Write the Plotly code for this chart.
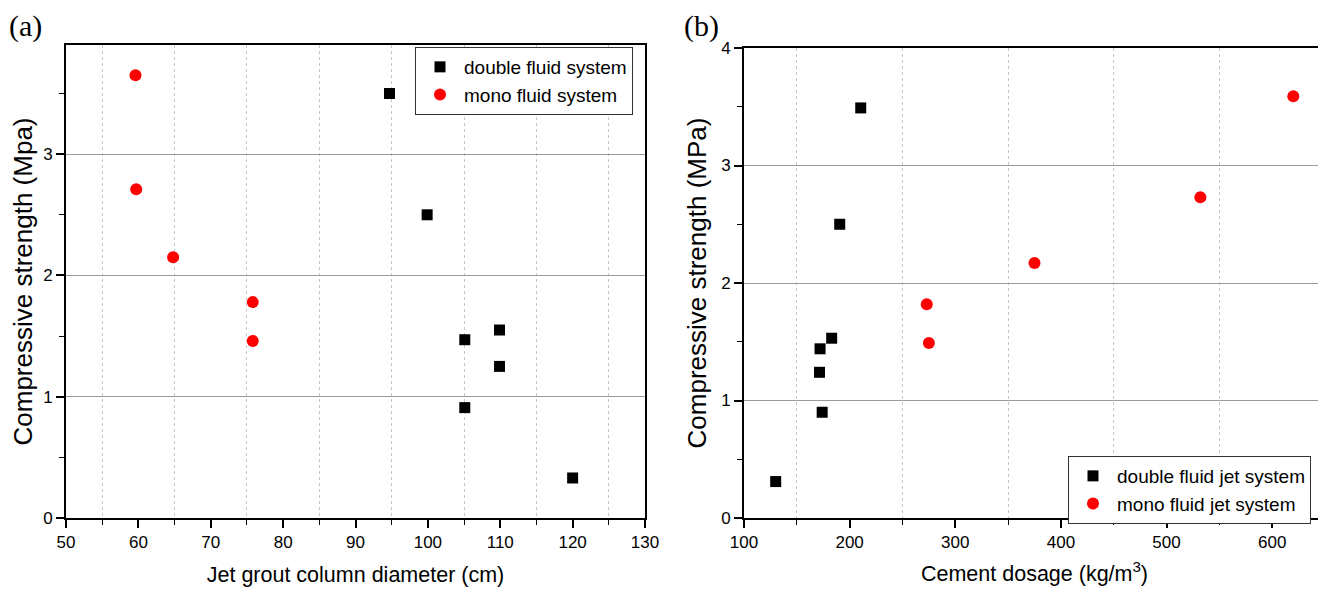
import plotly.graph_objects as go

# Panel (a): column diameter vs strength
a_double_x = [94.7, 99.9, 105.1, 109.9, 109.9, 105.1, 120.0]
a_double_y = [3.50, 2.50, 1.47, 1.55, 1.25, 0.91, 0.33]
a_mono_x = [59.6, 59.7, 64.8, 75.8, 75.8]
a_mono_y = [3.65, 2.71, 2.15, 1.78, 1.46]

# Panel (b): cement dosage vs strength
b_double_x = [130, 171.5, 172, 174, 183, 190.6, 210.5]
b_double_y = [0.31, 1.24, 1.44, 0.90, 1.53, 2.50, 3.49]
b_mono_x = [273, 275, 375, 532, 620]
b_mono_y = [1.82, 1.49, 2.17, 2.73, 3.59]

OFF = 8  # page body margin
W, H = 1326 - OFF, 594 - OFF
FONT = "Liberation Sans, Arial, sans-serif"

def px_x(p):
    return (p - OFF) / W

def px_y(p):
    return (H - (p - OFF)) / H

fig = go.Figure()
fig.add_trace(go.Scatter(x=a_double_x, y=a_double_y, mode="markers", name="double fluid system",
                         marker=dict(symbol="square", size=11, color="black"),
                         xaxis="x", yaxis="y", legend="legend"))
fig.add_trace(go.Scatter(x=a_mono_x, y=a_mono_y, mode="markers", name="mono fluid system",
                         marker=dict(symbol="circle", size=12, color="#ff0000"),
                         xaxis="x", yaxis="y", legend="legend"))
fig.add_trace(go.Scatter(x=b_double_x, y=b_double_y, mode="markers", name="double fluid jet system",
                         marker=dict(symbol="square", size=11, color="black"),
                         xaxis="x2", yaxis="y2", legend="legend2"))
fig.add_trace(go.Scatter(x=b_mono_x, y=b_mono_y, mode="markers", name="mono fluid jet system",
                         marker=dict(symbol="circle", size=12, color="#ff0000"),
                         xaxis="x2", yaxis="y2", legend="legend2"))

common = dict(showline=True, linecolor="black", linewidth=2, mirror=True, zeroline=False,
              ticks="outside", ticklen=8, tickwidth=1.5, tickcolor="black",
              tickfont=dict(family=FONT, size=17, color="black"), automargin=False)

xminor = dict(ticks="outside", ticklen=5, tickwidth=1, tickcolor="black", showgrid=True,
              gridcolor="#c8c8c8", griddash="dot", gridwidth=1)
yminor = dict(ticks="outside", ticklen=5, tickwidth=1, tickcolor="black", showgrid=False)

legend_common = dict(xanchor="left", yanchor="top", bordercolor="#333333", borderwidth=1,
                     bgcolor="white", font=dict(family=FONT, size=19, color="black"),
                     tracegroupgap=0, itemwidth=38)

fig.update_layout(
    width=W, height=H, margin=dict(l=0, r=0, t=0, b=0),
    plot_bgcolor="white", paper_bgcolor="white",
    font=dict(family=FONT, color="black"),
    xaxis=dict(domain=[px_x(66), px_x(645)], range=[50, 130], tick0=50, dtick=10, showgrid=False,
               minor=dict(dtick=5, **xminor), anchor="y",
               title=dict(text="Jet grout column diameter (cm)", font=dict(size=21.5), standoff=16), **common),
    yaxis=dict(domain=[px_y(518), px_y(45)], range=[0, 3.9], tick0=0, dtick=1, showgrid=True,
               gridcolor="#9a9a9a", gridwidth=1, minor=dict(dtick=0.5, **yminor), anchor="x",
               title=dict(text="Compressive strength (Mpa)", font=dict(size=26), standoff=11), **common),
    xaxis2=dict(domain=[px_x(744), px_x(1325)], range=[100, 650], tick0=100, dtick=100, showgrid=False,
                minor=dict(dtick=50, **xminor), anchor="y2",
                title=dict(text="Cement dosage (kg/m<sup>3</sup>)", font=dict(size=21.5), standoff=15), **common),
    yaxis2=dict(domain=[px_y(518), px_y(48)], range=[0, 4], tick0=0, dtick=1, showgrid=True,
                gridcolor="#9a9a9a", gridwidth=1, minor=dict(dtick=0.5, **yminor), anchor="x2",
                title=dict(text="Compressive strength (MPa)", font=dict(size=26), standoff=7), **common),
    legend=dict(x=px_x(415), y=px_y(47), **legend_common),
    legend2=dict(x=px_x(1068), y=px_y(456), **legend_common),
    annotations=[
        dict(text="(a)", x=px_x(8), y=px_y(8), xref="paper", yref="paper", xanchor="left", yanchor="top",
             showarrow=False, borderpad=0,
             font=dict(family="Liberation Serif, Times New Roman, serif", size=30, color="black")),
        dict(text="(b)", x=px_x(683), y=px_y(8), xref="paper", yref="paper", xanchor="left", yanchor="top",
             showarrow=False, borderpad=0,
             font=dict(family="Liberation Serif, Times New Roman, serif", size=30, color="black")),
    ],
)

fig.write_html("out.html")
